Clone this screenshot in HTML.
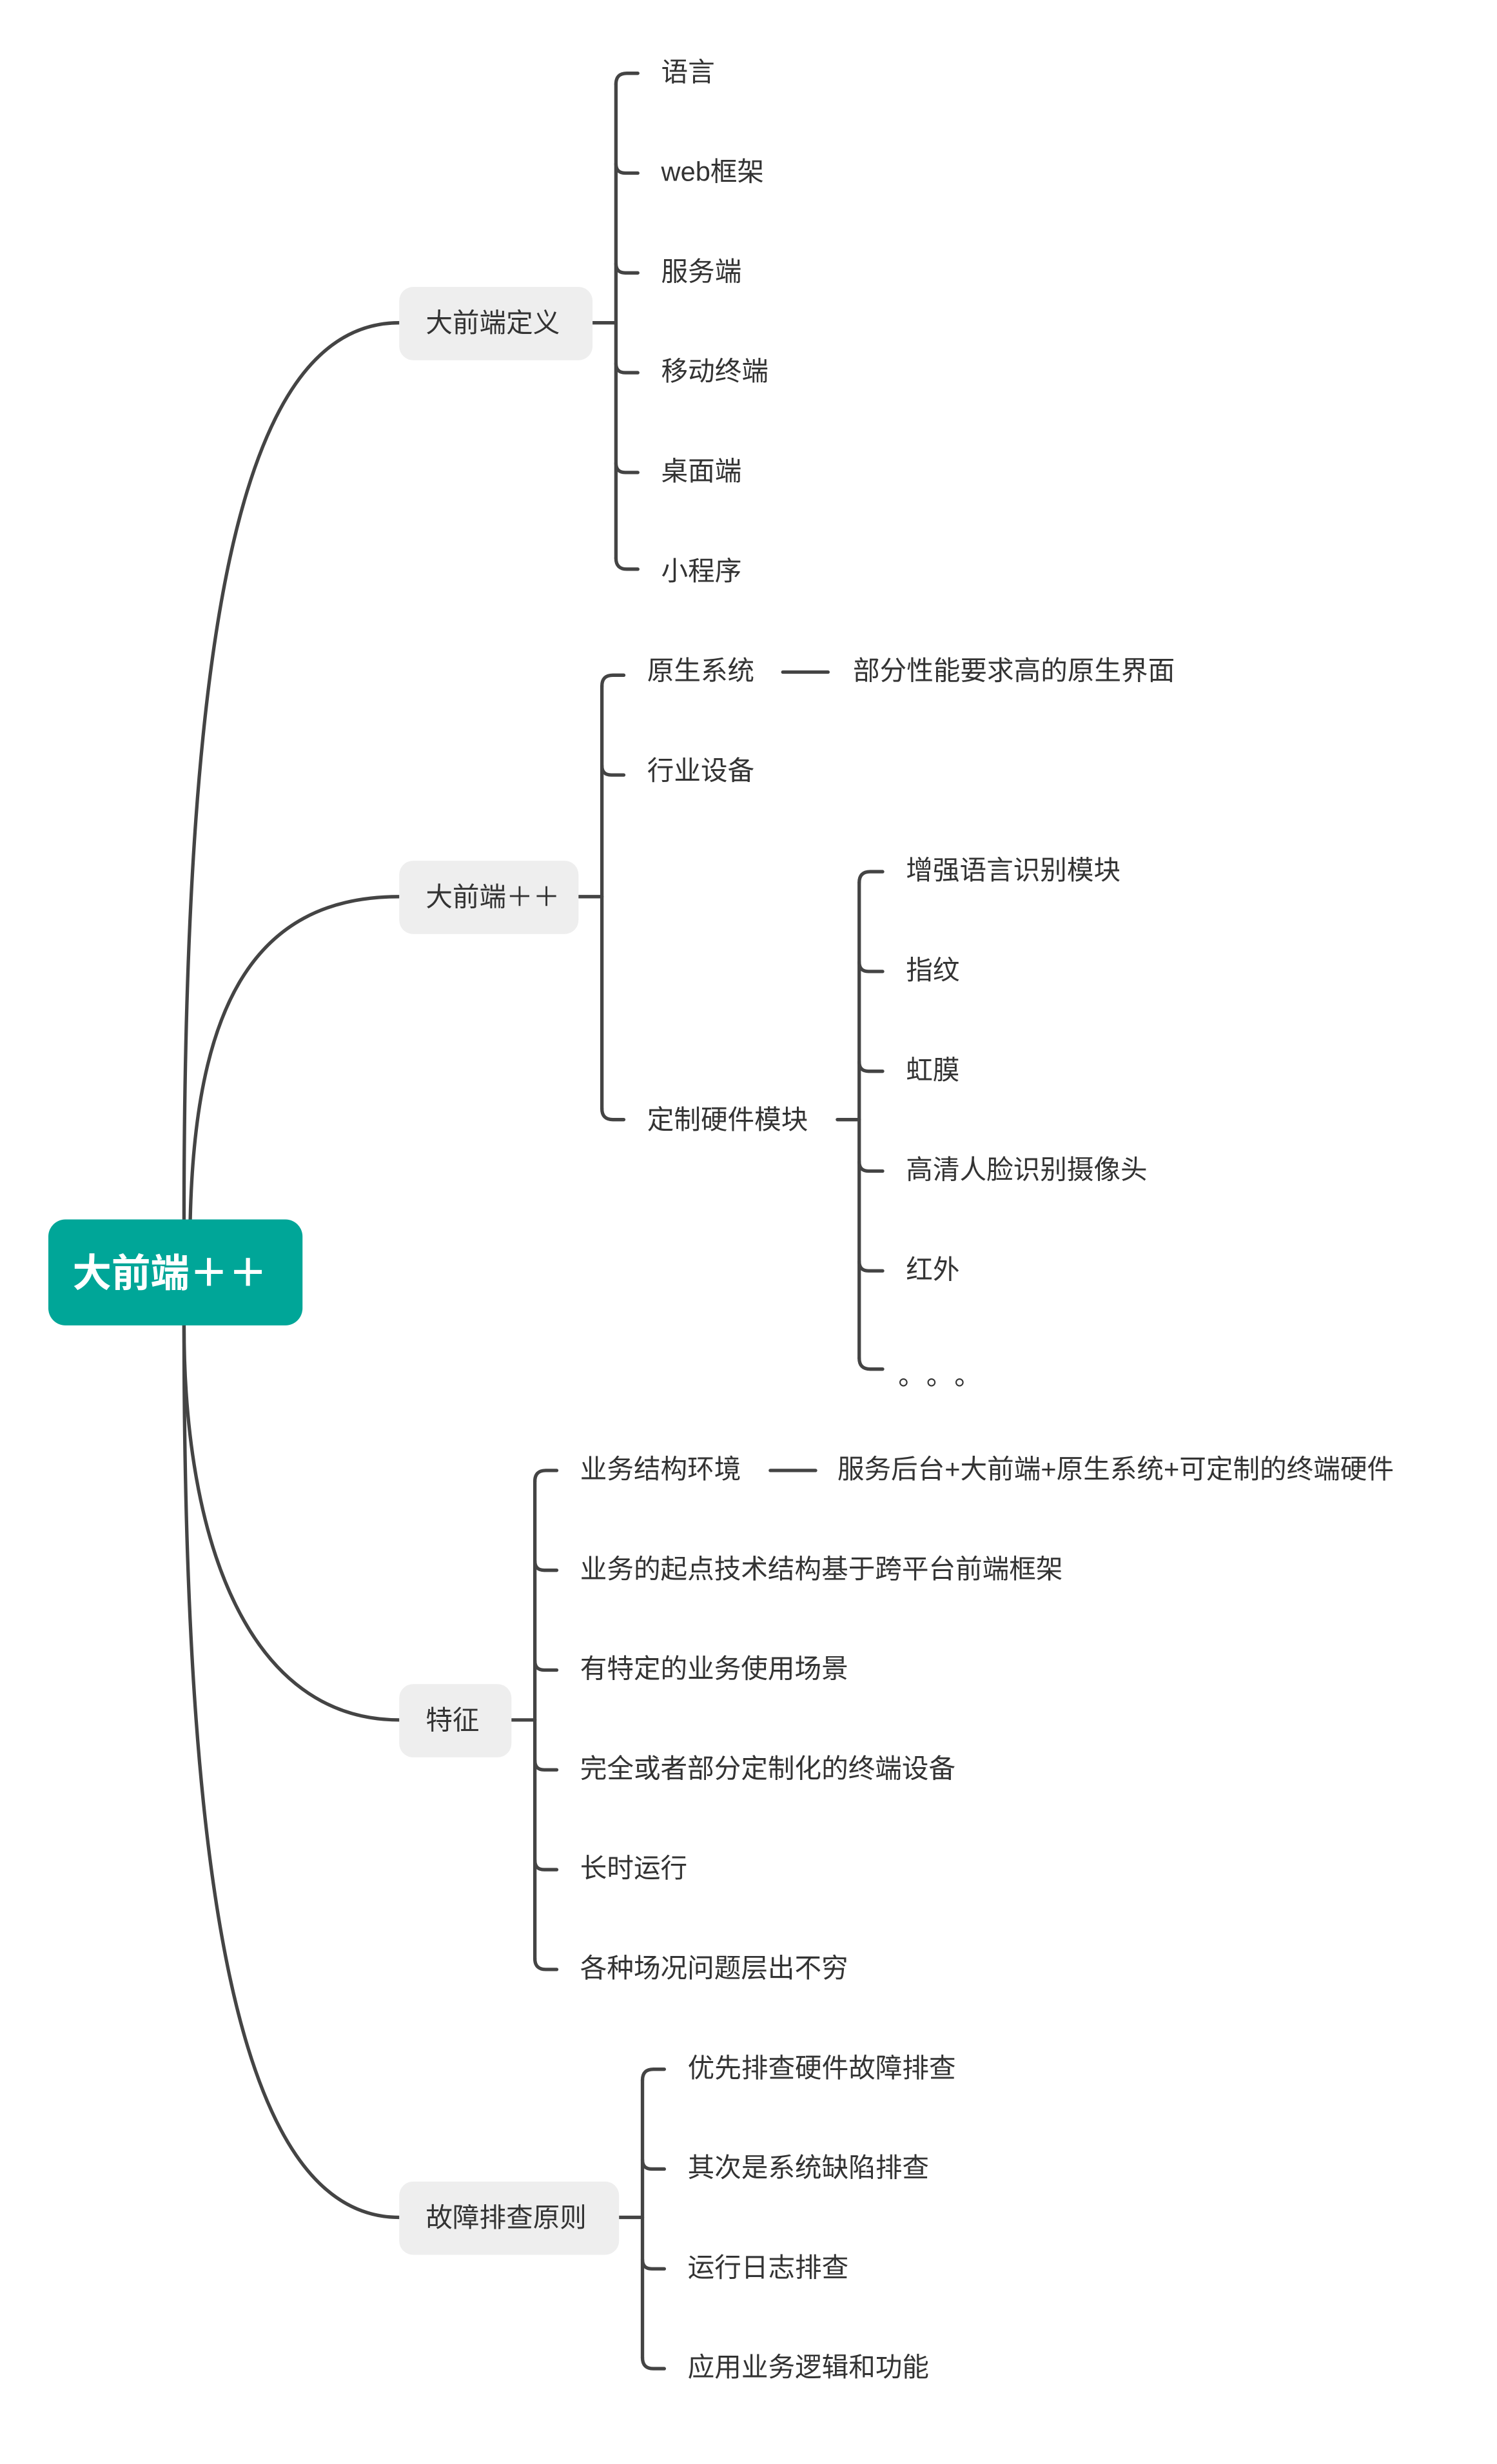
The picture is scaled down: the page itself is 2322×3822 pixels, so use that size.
<!DOCTYPE html>
<html><head><meta charset="utf-8"><style>
html,body{margin:0;padding:0;background:#fff;}
svg{display:block;}
text{font-family:"Liberation Sans","Noto Sans CJK SC",sans-serif;fill:#333;font-size:17.2px;}
</style></head><body>
<svg width="2322" height="3822" viewBox="0 0 960 1580.16" xmlns="http://www.w3.org/2000/svg">
<g fill="none" stroke="#444" stroke-width="2.2" stroke-linecap="round">
<path d="M118,782 C118,420 150,207 256,207"/>
<path d="M122,782 C125,650 160,575 256,575"/>
<path d="M118,850 C118,990 160,1103 256,1103"/>
<path d="M118,850 C118,1200 150,1422 256,1422"/>
<path d="M380,207 H395"/>
<path d="M395,54 V358"/>
<path d="M395,54 Q395,47 402,47 H409"/>
<path d="M395,358 Q395,365 402,365 H409"/>
<path d="M395,105 Q395,111 401,111 H409"/>
<path d="M395,169 Q395,175 401,175 H409"/>
<path d="M395,233 Q395,239 401,239 H409"/>
<path d="M395,297 Q395,303 401,303 H409"/>
<path d="M371,575 H386"/>
<path d="M386,440 V711"/>
<path d="M386,440 Q386,433 393,433 H400"/>
<path d="M386,711 Q386,718 393,718 H400"/>
<path d="M386,491 Q386,497 392,497 H400"/>
<path d="M502,431 H531"/>
<path d="M537,718 H551"/>
<path d="M551,566 V871"/>
<path d="M551,566 Q551,559 558,559 H566"/>
<path d="M551,871 Q551,878 558,878 H566"/>
<path d="M551,617 Q551,623 557,623 H566"/>
<path d="M551,681 Q551,687 557,687 H566"/>
<path d="M551,745 Q551,751 557,751 H566"/>
<path d="M551,809 Q551,815 557,815 H566"/>
<path d="M328,1103 H343"/>
<path d="M343,950 V1256"/>
<path d="M343,950 Q343,943 350,943 H357"/>
<path d="M343,1256 Q343,1263 350,1263 H357"/>
<path d="M343,1001 Q343,1007 349,1007 H357"/>
<path d="M343,1065 Q343,1071 349,1071 H357"/>
<path d="M343,1129 Q343,1135 349,1135 H357"/>
<path d="M343,1193 Q343,1199 349,1199 H357"/>
<path d="M494,943 H523"/>
<path d="M397,1422 H412"/>
<path d="M412,1334 V1512"/>
<path d="M412,1334 Q412,1327 419,1327 H426"/>
<path d="M412,1512 Q412,1519 419,1519 H426"/>
<path d="M412,1385 Q412,1391 418,1391 H426"/>
<path d="M412,1449 Q412,1455 418,1455 H426"/>
</g>
<rect x="31" y="782" width="163" height="68" rx="11" fill="#00A698"/>
<text x="109" y="825" text-anchor="middle" style="fill:#fff;font-size:25px;font-weight:bold;">大前端＋＋</text>
<rect x="256" y="184" width="124" height="47" rx="9" fill="#EEEEEE"/>
<text x="273" y="213">大前端定义</text>
<rect x="256" y="552" width="115" height="47" rx="9" fill="#EEEEEE"/>
<text x="273" y="581">大前端＋＋</text>
<rect x="256" y="1080" width="72" height="47" rx="9" fill="#EEEEEE"/>
<text x="273" y="1109">特征</text>
<rect x="256" y="1399" width="141" height="47" rx="9" fill="#EEEEEE"/>
<text x="273" y="1428">故障排查原则</text>
<text x="424" y="52">语言</text>
<text x="424" y="116">web框架</text>
<text x="424" y="180">服务端</text>
<text x="424" y="244">移动终端</text>
<text x="424" y="308">桌面端</text>
<text x="424" y="372">小程序</text>
<text x="415" y="436">原生系统</text>
<text x="547" y="436">部分性能要求高的原生界面</text>
<text x="415" y="500">行业设备</text>
<text x="415" y="724">定制硬件模块</text>
<text x="581" y="564">增强语言识别模块</text>
<text x="581" y="628">指纹</text>
<text x="581" y="692">虹膜</text>
<text x="581" y="756">高清人脸识别摄像头</text>
<text x="581" y="820">红外</text>
<text x="576" y="888">。</text>
<text x="594" y="888">。</text>
<text x="612" y="888">。</text>
<text x="372" y="948">业务结构环境</text>
<text x="537" y="948">服务后台+大前端+原生系统+可定制的终端硬件</text>
<text x="372" y="1012">业务的起点技术结构基于跨平台前端框架</text>
<text x="372" y="1076">有特定的业务使用场景</text>
<text x="372" y="1140">完全或者部分定制化的终端设备</text>
<text x="372" y="1204">长时运行</text>
<text x="372" y="1268">各种场况问题层出不穷</text>
<text x="441" y="1332">优先排查硬件故障排查</text>
<text x="441" y="1396">其次是系统缺陷排查</text>
<text x="441" y="1460">运行日志排查</text>
<text x="441" y="1524">应用业务逻辑和功能</text>
</svg>
</body></html>
